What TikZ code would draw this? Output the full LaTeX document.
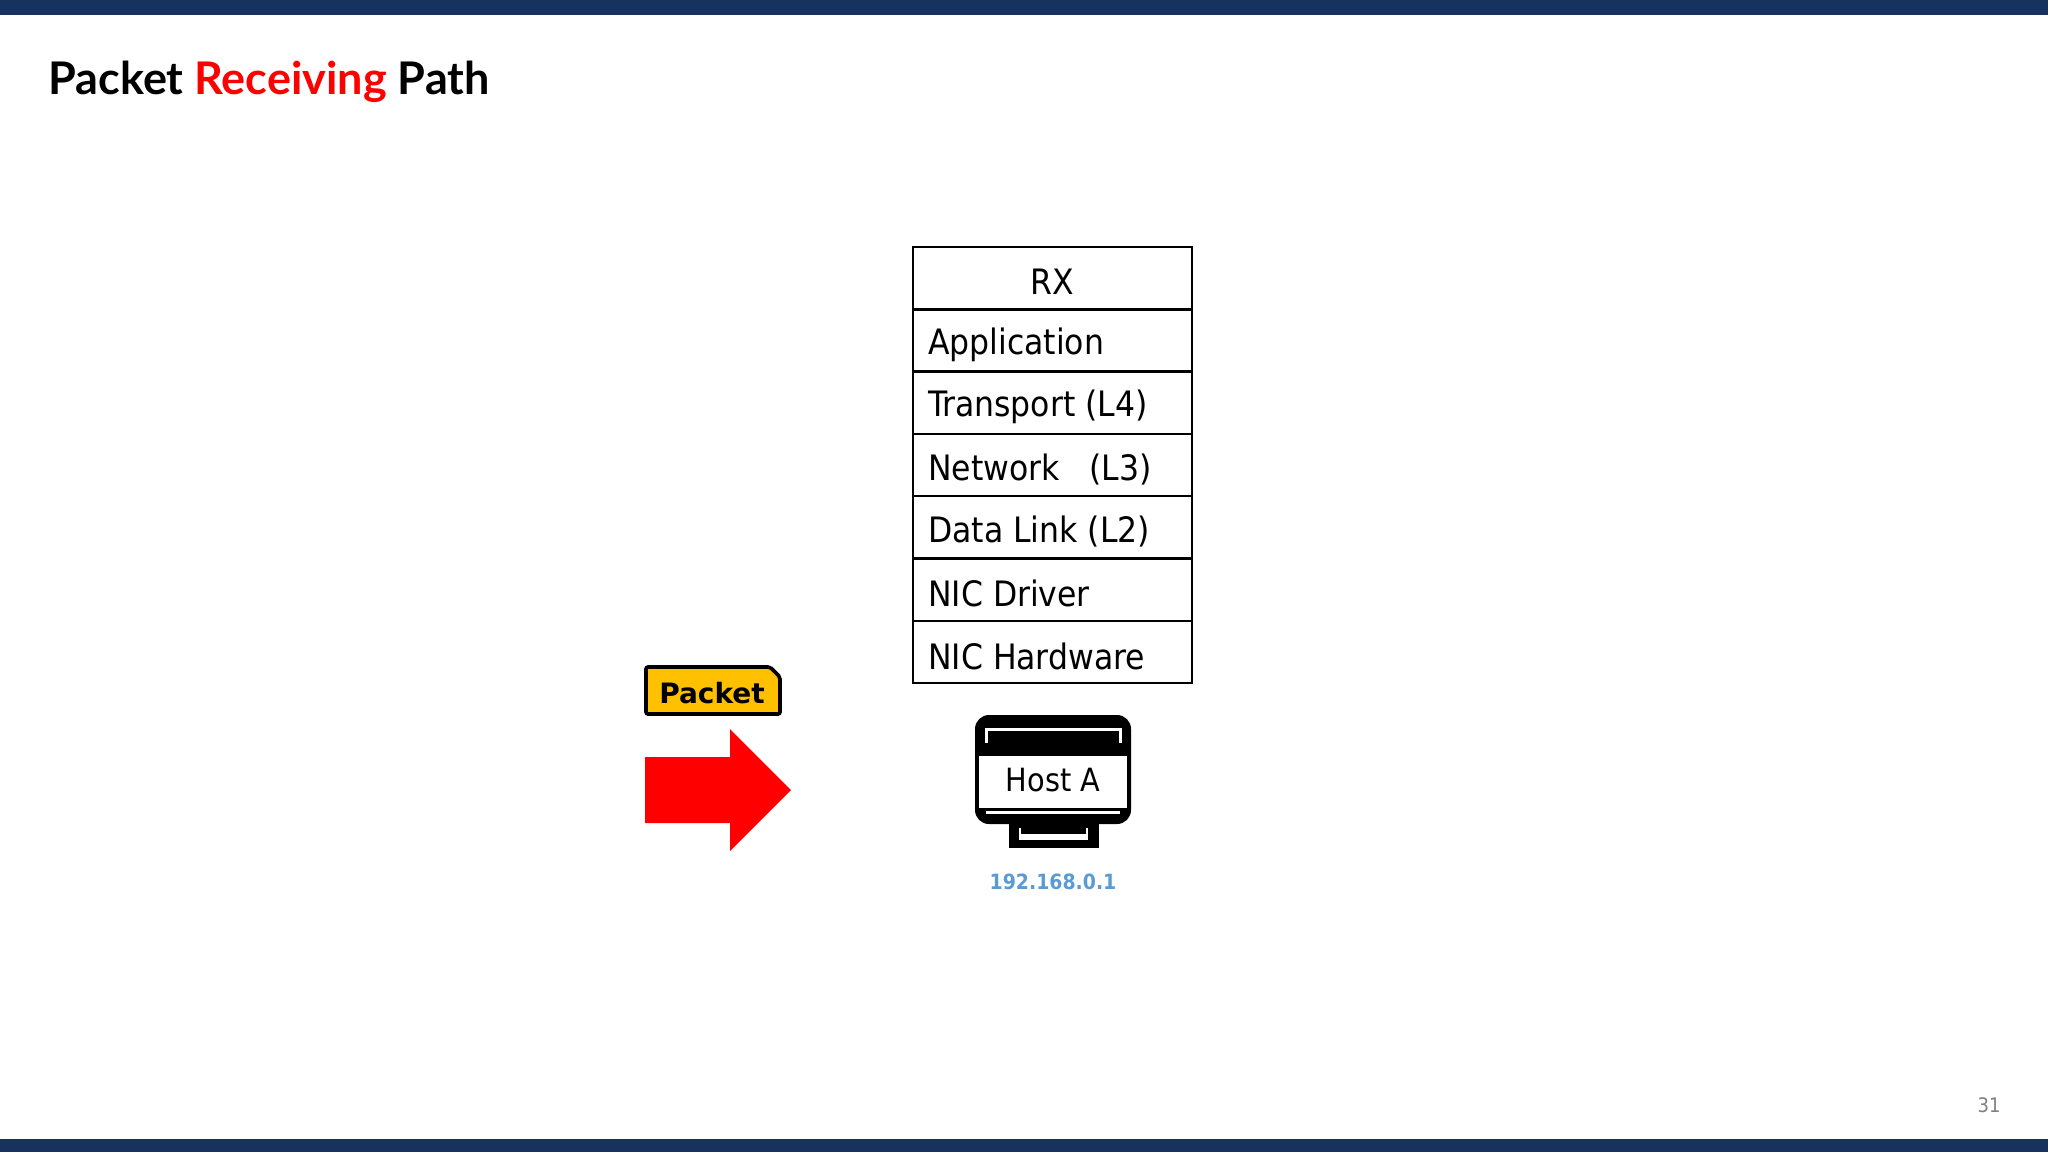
\documentclass[tikz,border=0pt]{standalone}
\usepackage{fontspec}
\setmainfont{DejaVu Sans Condensed}
\newfontfamily\titlefont{Lato}
\newfontfamily\boldfont{DejaVu Sans}
\begin{document}
\begin{tikzpicture}[x=0.5pt,y=-0.5pt,
  layer/.style={draw=black,line width=1.2pt,minimum width=139.5pt,minimum height=31.15pt,inner sep=0pt},
  lbl/.style={anchor=west,font=\fontsize{17.5}{20}\selectfont,inner sep=0pt}]
\definecolor{navy}{HTML}{17325E}
\definecolor{ipblue}{HTML}{5B9BD5}
\definecolor{pkyel}{HTML}{FFC000}
\useasboundingbox (0,0) rectangle (2048,1152);
\fill[white] (0,0) rectangle (2048,1152);
\fill[navy] (0,0) rectangle (2048,15);
\fill[navy] (0,1139) rectangle (2048,1152);
\node[anchor=base west,inner sep=0pt,font=\titlefont\bfseries\fontsize{22.5}{26}\selectfont] (title) at (48,94) {Packet \textcolor{red}{Receiving} Path};
% stack
\foreach \i in {1,...,7}{
  \node[layer] (l\i) at (1052.5,{247+62.3*(\i-0.5)}) {};
}
\node[font=\fontsize{17.5}{20}\selectfont] (rx) at ([yshift=-2pt]l1) {RX};
\foreach \t [count=\i from 2] in {Application,Transport (L4),Network~~~(L3),Data Link (L2),NIC Driver,NIC Hardware}{
  \node[lbl] (t\i) at ([xshift=8pt,yshift=-2pt]l\i.west) {\t};
}
% packet label
\draw[fill=pkyel,line width=1.8pt,rounded corners=1pt] (646,667) -- (770,667) -- (780,677) -- (780,714) -- (646,714) -- cycle;
\node[font=\boldfont\bfseries\fontsize{14}{16}\selectfont] (pk) at (712,693) {Packet};
% red arrow
\fill[red] (645,757) -- (730,757) -- (730,729) -- (791,790) -- (730,851) -- (730,823) -- (645,823) -- cycle;
% host monitor
\fill[black,rounded corners=7pt] (975,715) rectangle (1131,824);
\draw[white,line width=1.5pt] (986,743) -- (986,729) -- (1120,729) -- (1120,743);
\draw[white,line width=1.5pt] (986,812) -- (1120,812);
\fill[white] (979,756) rectangle (1127,808);
\fill[black] (1009,824) rectangle (1099,848);
\fill[white] (1019,828) rectangle (1021,836);
\fill[white] (1086,828) rectangle (1088,836);
\fill[white] (1019,834) rectangle (1088,840);
\node[font=\fontsize{16}{18}\selectfont] (host) at (1053,780) {Host A};
\node[font=\bfseries\fontsize{10.5}{13}\selectfont,text=ipblue] (ip) at (1053,882) {192.168.0.1};
\node[font=\fontsize{10}{12}\selectfont,text=gray] (pg) at (1989,1105) {31};
\end{tikzpicture}
\end{document}
